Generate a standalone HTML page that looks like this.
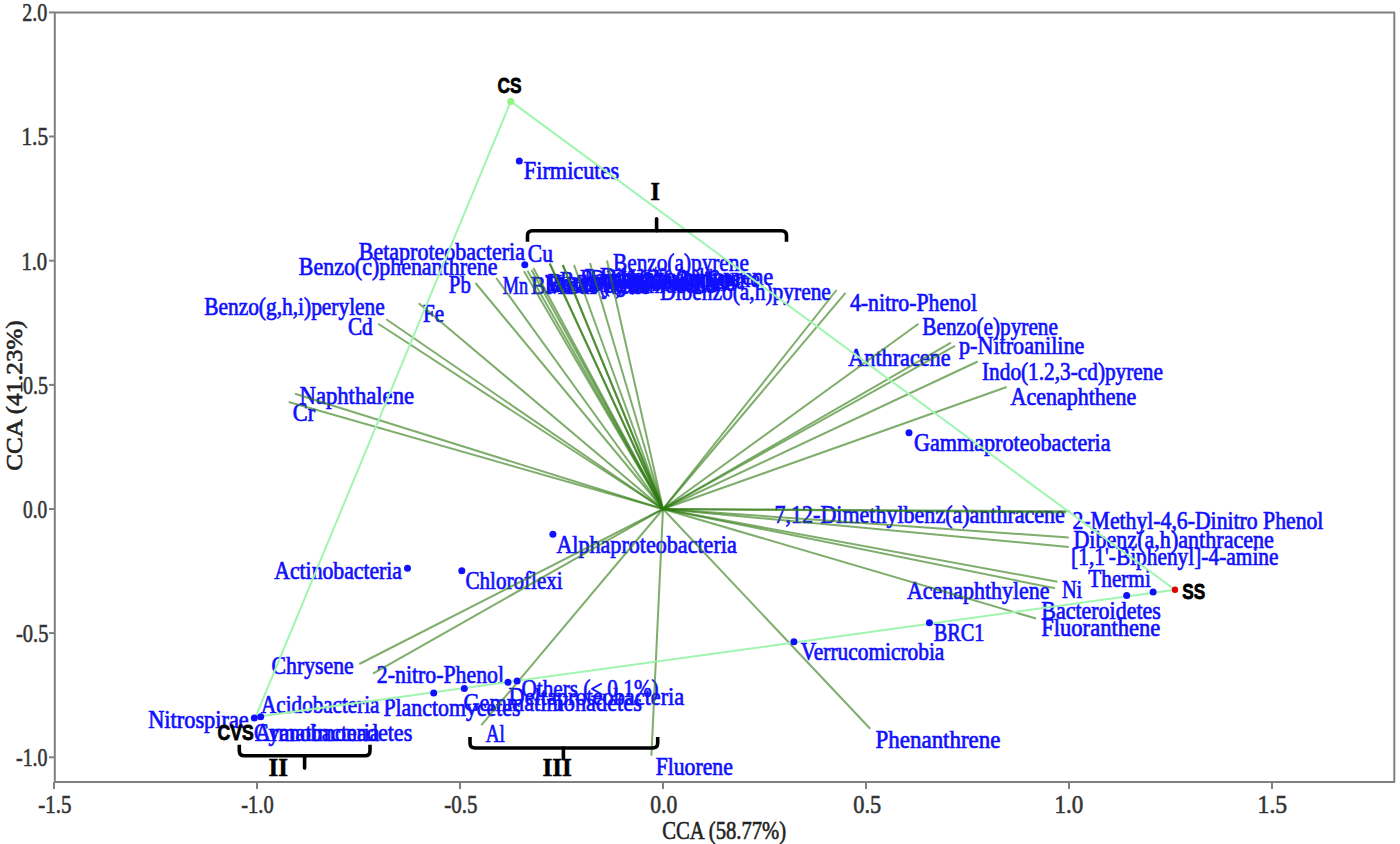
<!DOCTYPE html>
<html><head><meta charset="utf-8"><style>
html,body{margin:0;padding:0;background:#fff;width:1400px;height:844px;overflow:hidden;font-family:"Liberation Serif",serif;}
svg{display:block}
</style></head><body>
<svg width="1400" height="844" viewBox="0 0 1400 844">
<rect width="1400" height="844" fill="#fff"/>
<g stroke="#808080" stroke-width="2" fill="none" stroke-linejoin="round">
<rect x="54.8" y="12.6" width="1339.5" height="769.4"/>
<line x1="49" y1="12.4" x2="54.8" y2="12.4"/>
<line x1="49" y1="136.5" x2="54.8" y2="136.5"/>
<line x1="49" y1="260.7" x2="54.8" y2="260.7"/>
<line x1="49" y1="384.9" x2="54.8" y2="384.9"/>
<line x1="49" y1="509.0" x2="54.8" y2="509.0"/>
<line x1="49" y1="633.1" x2="54.8" y2="633.1"/>
<line x1="49" y1="757.3" x2="54.8" y2="757.3"/>
<line x1="54.0" y1="782" x2="54.0" y2="789"/>
<line x1="257.0" y1="782" x2="257.0" y2="789"/>
<line x1="460.0" y1="782" x2="460.0" y2="789"/>
<line x1="663.0" y1="782" x2="663.0" y2="789"/>
<line x1="866.0" y1="782" x2="866.0" y2="789"/>
<line x1="1069.0" y1="782" x2="1069.0" y2="789"/>
<line x1="1272.0" y1="782" x2="1272.0" y2="789"/>
</g>
<g font-family="Liberation Serif" font-size="26" fill="#333" stroke="#333" stroke-width="0.6">
<text x="22.2" y="21.2" textLength="25.0" lengthAdjust="spacingAndGlyphs" >2.0</text>
<text x="21.4" y="145.3" textLength="26.7" lengthAdjust="spacingAndGlyphs" >1.5</text>
<text x="21.4" y="269.5" textLength="25.8" lengthAdjust="spacingAndGlyphs" >1.0</text>
<text x="23.0" y="393.7" textLength="25.0" lengthAdjust="spacingAndGlyphs" >0.5</text>
<text x="23.0" y="517.8" textLength="24.2" lengthAdjust="spacingAndGlyphs" >0.0</text>
<text x="16.0" y="641.9" textLength="32.4" lengthAdjust="spacingAndGlyphs" >‐0.5</text>
<text x="16.0" y="766.1" textLength="31.6" lengthAdjust="spacingAndGlyphs" >‐1.0</text>
<text x="38.3" y="813.0" textLength="33.2" lengthAdjust="spacingAndGlyphs" >‐1.5</text>
<text x="241.3" y="813.0" textLength="32.4" lengthAdjust="spacingAndGlyphs" >‐1.0</text>
<text x="444.3" y="813.0" textLength="33.2" lengthAdjust="spacingAndGlyphs" >‐0.5</text>
<text x="650.3" y="813.0" textLength="27.0" lengthAdjust="spacingAndGlyphs" >0.0</text>
<text x="853.3" y="813.0" textLength="27.9" lengthAdjust="spacingAndGlyphs" >0.5</text>
<text x="1054.5" y="813.0" textLength="28.8" lengthAdjust="spacingAndGlyphs" >1.0</text>
<text x="1257.5" y="813.0" textLength="29.7" lengthAdjust="spacingAndGlyphs" >1.5</text>
</g>
<g font-family="Liberation Serif" font-size="25" fill="#222" stroke="#222" stroke-width="0.6">
<text x="662.3" y="838.8" textLength="123.9" lengthAdjust="spacingAndGlyphs" >CCA (58.77%)</text>
<g transform="rotate(-90)">
<text x="-470.8" y="21.6" textLength="150.5" lengthAdjust="spacingAndGlyphs"  font-size="24">CCA (41.23%)</text>
</g>
</g>
<g font-family="Liberation Serif" font-size="24.5" fill="#1010ff" stroke="#1010ff" stroke-width="0.7">
<text x="523.8" y="178.6" textLength="95.3" lengthAdjust="spacingAndGlyphs" >Firmicutes</text>
<text x="358.8" y="259.6" textLength="166.1" lengthAdjust="spacingAndGlyphs" >Betaproteobacteria</text>
<text x="527.8" y="261.8" textLength="25.1" lengthAdjust="spacingAndGlyphs" >Cu</text>
<text x="298.8" y="274.6" textLength="198.6" lengthAdjust="spacingAndGlyphs" >Benzo(c)phenanthrene</text>
<text x="448.8" y="293.3" textLength="22.0" lengthAdjust="spacingAndGlyphs" >Pb</text>
<text x="502.8" y="294.3" textLength="25.4" lengthAdjust="spacingAndGlyphs" >Mn</text>
<text x="204.2" y="315.1" textLength="180.6" lengthAdjust="spacingAndGlyphs" >Benzo(g,h,i)perylene</text>
<text x="347.9" y="334.6" textLength="24.8" lengthAdjust="spacingAndGlyphs" >Cd</text>
<text x="423.0" y="321.6" textLength="21.1" lengthAdjust="spacingAndGlyphs" >Fe</text>
<text x="299.5" y="404.1" textLength="114.6" lengthAdjust="spacingAndGlyphs" >Naphthalene</text>
<text x="292.8" y="420.8" textLength="22.3" lengthAdjust="spacingAndGlyphs" >Cr</text>
<text x="613.0" y="270.8" textLength="135.9" lengthAdjust="spacingAndGlyphs" >Benzo(a)pyrene</text>
<text x="660.0" y="299.8" textLength="170.9" lengthAdjust="spacingAndGlyphs" >Dibenzo(a,h)pyrene</text>
<text x="849.9" y="310.7" textLength="127.1" lengthAdjust="spacingAndGlyphs" >4-nitro-Phenol</text>
<text x="922.3" y="334.6" textLength="135.6" lengthAdjust="spacingAndGlyphs" >Benzo(e)pyrene</text>
<text x="959.0" y="354.3" textLength="125.4" lengthAdjust="spacingAndGlyphs" >p-Nitroaniline</text>
<text x="848.3" y="366.1" textLength="102.2" lengthAdjust="spacingAndGlyphs" >Anthracene</text>
<text x="982.0" y="380.1" textLength="180.9" lengthAdjust="spacingAndGlyphs" >Indo(1.2,3-cd)pyrene</text>
<text x="1010.5" y="405.0" textLength="125.8" lengthAdjust="spacingAndGlyphs" >Acenaphthene</text>
<text x="913.9" y="450.5" textLength="196.7" lengthAdjust="spacingAndGlyphs" >Gammaproteobacteria</text>
<text x="774.6" y="522.8" textLength="290.3" lengthAdjust="spacingAndGlyphs" >7,12-Dimethylbenz(a)anthracene</text>
<text x="1072.5" y="528.8" textLength="250.9" lengthAdjust="spacingAndGlyphs" >2-Methyl-4,6-Dinitro Phenol</text>
<text x="1073.4" y="547.9" textLength="200.5" lengthAdjust="spacingAndGlyphs" >Dibenz(a,h)anthracene</text>
<text x="1071.1" y="564.8" textLength="207.4" lengthAdjust="spacingAndGlyphs" >[1,1'-Biphenyl]-4-amine</text>
<text x="1088.3" y="587.2" textLength="62.5" lengthAdjust="spacingAndGlyphs" >Thermi</text>
<text x="1061.9" y="598.3" textLength="20.3" lengthAdjust="spacingAndGlyphs" >Ni</text>
<text x="906.9" y="598.7" textLength="142.6" lengthAdjust="spacingAndGlyphs" >Acenaphthylene</text>
<text x="1041.3" y="618.6" textLength="119.5" lengthAdjust="spacingAndGlyphs" >Bacteroidetes</text>
<text x="1041.3" y="636.1" textLength="118.9" lengthAdjust="spacingAndGlyphs" >Fluoranthene</text>
<text x="933.7" y="641.4" textLength="50.8" lengthAdjust="spacingAndGlyphs" >BRC1</text>
<text x="800.8" y="659.8" textLength="143.5" lengthAdjust="spacingAndGlyphs" >Verrucomicrobia</text>
<text x="875.6" y="747.5" textLength="124.8" lengthAdjust="spacingAndGlyphs" >Phenanthrene</text>
<text x="655.7" y="774.5" textLength="77.1" lengthAdjust="spacingAndGlyphs" >Fluorene</text>
<text x="556.4" y="552.9" textLength="180.3" lengthAdjust="spacingAndGlyphs" >Alphaproteobacteria</text>
<text x="274.3" y="578.7" textLength="127.7" lengthAdjust="spacingAndGlyphs" >Actinobacteria</text>
<text x="465.5" y="588.7" textLength="97.2" lengthAdjust="spacingAndGlyphs" >Chloroflexi</text>
<text x="271.6" y="674.0" textLength="82.2" lengthAdjust="spacingAndGlyphs" >Chrysene</text>
<text x="376.8" y="683.1" textLength="127.3" lengthAdjust="spacingAndGlyphs" >2-nitro-Phenol</text>
<text x="261.1" y="712.6" textLength="118.4" lengthAdjust="spacingAndGlyphs" >Acidobacteria</text>
<text x="148.2" y="727.6" textLength="100.6" lengthAdjust="spacingAndGlyphs" >Nitrospirae</text>
<text x="383.4" y="715.7" textLength="137.1" lengthAdjust="spacingAndGlyphs" >Planctomycetes</text>
<text x="463.4" y="710.8" textLength="178.5" lengthAdjust="spacingAndGlyphs" >Gemmatimonadetes</text>
<text x="521.4" y="696.5" textLength="137.3" lengthAdjust="spacingAndGlyphs" >Others (≤ 0.1%)</text>
<text x="508.6" y="705.1" textLength="175.6" lengthAdjust="spacingAndGlyphs" >Deltaproteobacteria</text>
<text x="485.7" y="742.2" textLength="19.2" lengthAdjust="spacingAndGlyphs" >Al</text>
<text x="254.1" y="740.8" textLength="125.4" lengthAdjust="spacingAndGlyphs" >Cyanobacteria</text>
<text x="255.0" y="740.8" textLength="157.3" lengthAdjust="spacingAndGlyphs" >Armatimonadetes</text>
<text x="600.0" y="284.8" textLength="173.3" lengthAdjust="spacingAndGlyphs" >Dibenzo(a,l)pyrene</text>
<text x="590.0" y="286.8" textLength="169.9" lengthAdjust="spacingAndGlyphs" >Dibenzo(a,e)pyrene</text>
<text x="548.0" y="291.3" textLength="186.9" lengthAdjust="spacingAndGlyphs" >Benzo(b)fluoranthene</text>
<text x="560.0" y="288.8" textLength="184.9" lengthAdjust="spacingAndGlyphs" >Benzo(k)fluoranthene</text>
<text x="545.0" y="293.3" textLength="169.9" lengthAdjust="spacingAndGlyphs" >Benzo(a)anthracene</text>
<text x="545.0" y="291.8" textLength="105.2" lengthAdjust="spacingAndGlyphs" >Mo Zn Hg Sb</text>
<text x="531.0" y="293.8" textLength="118.9" lengthAdjust="spacingAndGlyphs" >BMBaPyrene</text>
<text x="580.0" y="286.8" textLength="120.5" lengthAdjust="spacingAndGlyphs" >Pyrene Zn As</text>
<text x="585.0" y="285.8" textLength="154.9" lengthAdjust="spacingAndGlyphs" >Benzo(ghi)fluoranthene</text>
<text x="620.0" y="287.8" textLength="110.2" lengthAdjust="spacingAndGlyphs" >Hg As Zn Co</text>
</g>
<g stroke="#2f7a12" stroke-width="2" stroke-opacity="0.62" fill="none">
<line x1="663.0" y1="509.0" x2="475.5" y2="283"/>
<line x1="663.0" y1="509.0" x2="496.25" y2="278"/>
<line x1="663.0" y1="509.0" x2="418.75" y2="303.25"/>
<line x1="663.0" y1="509.0" x2="386.25" y2="319.25"/>
<line x1="663.0" y1="509.0" x2="378.25" y2="323.75"/>
<line x1="663.0" y1="509.0" x2="295" y2="393.75"/>
<line x1="663.0" y1="509.0" x2="288.75" y2="402"/>
<line x1="663.0" y1="509.0" x2="524" y2="271.3"/>
<line x1="663.0" y1="509.0" x2="527.5" y2="270.8"/>
<line x1="663.0" y1="509.0" x2="531.5" y2="270"/>
<line x1="663.0" y1="509.0" x2="533.4" y2="268"/>
<line x1="663.0" y1="509.0" x2="549.7" y2="263.5"/>
<line x1="663.0" y1="509.0" x2="549.7" y2="263.5"/>
<line x1="663.0" y1="509.0" x2="562.8" y2="265"/>
<line x1="663.0" y1="509.0" x2="562.8" y2="265"/>
<line x1="663.0" y1="509.0" x2="574" y2="265"/>
<line x1="663.0" y1="509.0" x2="590" y2="263"/>
<line x1="663.0" y1="509.0" x2="607" y2="260.5"/>
<line x1="663.0" y1="509.0" x2="836.6" y2="290"/>
<line x1="663.0" y1="509.0" x2="845.5" y2="292.8"/>
<line x1="663.0" y1="509.0" x2="918.5" y2="323.8"/>
<line x1="663.0" y1="509.0" x2="951" y2="342.7"/>
<line x1="663.0" y1="509.0" x2="955" y2="345.8"/>
<line x1="663.0" y1="509.0" x2="977.7" y2="361.5"/>
<line x1="663.0" y1="509.0" x2="1006.7" y2="387"/>
<line x1="663.0" y1="509.0" x2="1070" y2="511.2"/>
<line x1="663.0" y1="509.0" x2="1066" y2="512.5"/>
<line x1="663.0" y1="509.0" x2="1068.75" y2="537.5"/>
<line x1="663.0" y1="509.0" x2="1068.75" y2="547"/>
<line x1="663.0" y1="509.0" x2="1057.4" y2="581.7"/>
<line x1="663.0" y1="509.0" x2="1055" y2="588.3"/>
<line x1="663.0" y1="509.0" x2="1036" y2="618.5"/>
<line x1="663.0" y1="509.0" x2="870.2" y2="728.7"/>
<line x1="663.0" y1="509.0" x2="651.4" y2="755.7"/>
<line x1="663.0" y1="509.0" x2="481.4" y2="725.1"/>
<line x1="663.0" y1="509.0" x2="372.9" y2="673.7"/>
<line x1="663.0" y1="509.0" x2="359.3" y2="664"/>
</g>
<g stroke="#a0f5b0" stroke-width="2" fill="none"><path d="M510.8,101.4 L1175,589.8 L255.5,717 Z"/></g>
<circle cx="510.8" cy="101.4" r="3.5" fill="#8ef57e"/>
<circle cx="1175" cy="589.8" r="3.2" fill="#e00000"/>
<g fill="#1010ff">
<circle cx="519.3" cy="161" r="3.5"/>
<circle cx="524.8" cy="264.7" r="3.5"/>
<circle cx="909" cy="432.8" r="3.5"/>
<circle cx="1153.1" cy="592.1" r="3.5"/>
<circle cx="1126.7" cy="595.4" r="3.5"/>
<circle cx="929.4" cy="622.8" r="3.5"/>
<circle cx="793.9" cy="641.8" r="3.5"/>
<circle cx="552.9" cy="534.3" r="3.5"/>
<circle cx="407.5" cy="568.2" r="3.5"/>
<circle cx="461.8" cy="570.7" r="3.5"/>
<circle cx="433.7" cy="692.9" r="3.5"/>
<circle cx="464.3" cy="688.6" r="3.5"/>
<circle cx="508" cy="682.3" r="3.5"/>
<circle cx="517.1" cy="680.9" r="3.5"/>
<circle cx="254.3" cy="717.9" r="3.5"/>
<circle cx="260.7" cy="716.8" r="3.5"/>
</g>
<g stroke="#000" stroke-width="3.6" fill="none" stroke-linecap="butt">
<path d="M527.5,241.7 L527.5,235.7 Q527.5,230.7 532.5,230.7 L781.5,230.7 Q786.5,230.7 786.5,235.7 L786.5,241.7" /><path d="M656.6,230.7 L656.6,218.7" stroke-linecap="round"/>
<path d="M239.3,744.7 L239.3,750.7 Q239.3,755.7 244.3,755.7 L365,755.7 Q370,755.7 370,750.7 L370,744.7" /><path d="M304.6,755.7 L304.6,768.1" stroke-linecap="round"/>
<path d="M470,737 L470,743 Q470,748 475,748 L652.7,748 Q657.7,748 657.7,743 L657.7,737" /><path d="M563.4,748 L563.4,758.6" stroke-linecap="round"/>
</g>
<g font-family="Liberation Serif" font-weight="bold" font-size="26" fill="#000" stroke="#000" stroke-width="0.5">
<text x="650.5" y="199.5" textLength="9.4" lengthAdjust="spacingAndGlyphs" >I</text>
<text x="268.6" y="776.3" textLength="19.4" lengthAdjust="spacingAndGlyphs" >II</text>
<text x="542.5" y="776.0" textLength="29.4" lengthAdjust="spacingAndGlyphs" >III</text>
</g>
<g font-family="Liberation Sans" font-weight="bold" font-size="22" fill="#000" stroke="#000" stroke-width="0.8">
<text x="497.5" y="93.4" textLength="24.0" lengthAdjust="spacingAndGlyphs" >CS</text>
<text x="1182.2" y="598.5" textLength="22.9" lengthAdjust="spacingAndGlyphs" >SS</text>
<text x="217.5" y="740.0" textLength="36.2" lengthAdjust="spacingAndGlyphs" >CVS</text>
</g>
</svg>
</body></html>
